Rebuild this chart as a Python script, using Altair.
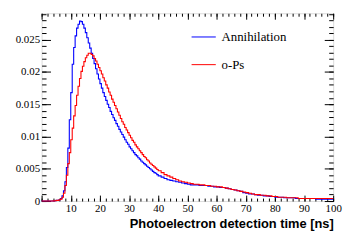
import altair as alt
import pandas as pd

# Histogram contents. 0-40 ns in 0.5 ns bins, 40-100 ns in 1 ns bins.
fine_edges = [i * 0.5 for i in range(80)]
coarse_edges = list(range(40, 100))

annihilation_fine = [
    0, 0, 0, 0, 0, 0, 0, 0,
    0.00003, 0.00005, 0.0001, 0.0001, 0.0002, 0.0004, 0.0008, 0.0016, 0.0030, 0.0052,
    0.0082, 0.0126, 0.0168, 0.0212, 0.0238, 0.0256, 0.0268, 0.0274, 0.0279, 0.0278,
    0.0274, 0.0268, 0.0261, 0.0253, 0.0245, 0.0237, 0.0229, 0.0221, 0.0213, 0.0205,
    0.0197, 0.0189, 0.0182, 0.0175, 0.0168, 0.0162, 0.0156, 0.0150, 0.0145, 0.0139,
    0.0134, 0.0129, 0.0125, 0.0120, 0.0116, 0.0111, 0.0107, 0.0103, 0.0099, 0.0095,
    0.0091, 0.0088, 0.0084, 0.0081, 0.0078, 0.0075, 0.0072, 0.0070, 0.0067, 0.0065,
    0.0062, 0.0060, 0.0058, 0.0056, 0.0054, 0.0052, 0.0050, 0.0048, 0.0046, 0.0044,
    0.0043, 0.0041,
]
annihilation_coarse = [
    0.0039, 0.0037, 0.0035, 0.0033, 0.0032, 0.0031, 0.0030, 0.0029, 0.0028, 0.0027,
    0.0026, 0.0025, 0.0025, 0.0025, 0.0024, 0.0024, 0.0024, 0.0023, 0.0023, 0.0022,
    0.0022, 0.0021, 0.0021, 0.0020, 0.0019, 0.0018, 0.0017, 0.0016, 0.0015, 0.0013,
    0.0012, 0.0011, 0.0011, 0.0010, 0.0009, 0.0009, 0.0008, 0.0008, 0.0007, 0.0007,
    0.0006, 0.0006, 0.0006, 0.0005, 0.0005, 0.0005, 0.0005, 0.0004, 0.0004, 0.0004,
    0.0004, 0.0004, 0.0004, 0.0004, 0.0003, 0.0003, 0.0003, 0.0003, 0.0003, 0.0003,
]

ops_fine = [
    0, 0, 0, 0, 0, 0, 0, 0,
    0.00002, 0.00004, 0.0001, 0.0001, 0.0002, 0.0003, 0.0006, 0.0012, 0.0024, 0.0040,
    0.0058, 0.0075, 0.0095, 0.0113, 0.0132, 0.0148, 0.0164, 0.0178, 0.0190, 0.0201,
    0.0209, 0.0216, 0.0222, 0.0226, 0.0229, 0.0229, 0.0227, 0.0225, 0.0221, 0.0217,
    0.0212, 0.0207, 0.0202, 0.0197, 0.0191, 0.0186, 0.0180, 0.0175, 0.0169, 0.0164,
    0.0158, 0.0153, 0.0148, 0.0143, 0.0138, 0.0133, 0.0128, 0.0123, 0.0119, 0.0114,
    0.0110, 0.0106, 0.0102, 0.0098, 0.0094, 0.0091, 0.0087, 0.0084, 0.0081, 0.0078,
    0.0075, 0.0072, 0.0069, 0.0067, 0.0064, 0.0062, 0.0059, 0.0057, 0.0055, 0.0053,
    0.0051, 0.0049,
]
ops_coarse = [
    0.0047, 0.0044, 0.0041, 0.0039, 0.0037, 0.0035, 0.0033, 0.0031, 0.0030, 0.0029,
    0.0028, 0.0027, 0.0026, 0.0026, 0.0025, 0.0025, 0.0024, 0.0024, 0.0023, 0.0023,
    0.0022, 0.0022, 0.0021, 0.0020, 0.0019, 0.0018, 0.0017, 0.0016, 0.0015, 0.0014,
    0.0013, 0.0012, 0.0011, 0.0010, 0.0010, 0.0009, 0.0009, 0.0008, 0.0008, 0.0007,
    0.0007, 0.0006, 0.0006, 0.0006, 0.0005, 0.0005, 0.0005, 0.0005, 0.0004, 0.0004,
    0.0004, 0.0004, 0.0004, 0.0004, 0.0004, 0.0004, 0.0004, 0.0004, 0.0004, 0.0004,
]

series_names = ["Annihilation", "o-Ps"]
series_colors = ["#0000ff", "#ff0000"]

x_labels = [10, 20, 30, 40, 50, 60, 70, 80, 90, 100]
x_major = list(range(0, 101, 10))
x_minor = list(range(0, 101, 2))
y_labels = [0, 0.005, 0.01, 0.015, 0.02, 0.025]
y_major = [0, 0.005, 0.01, 0.015, 0.02, 0.025]
y_minor = [i / 1000 for i in range(0, 30)]

rows = []
edges = fine_edges + coarse_edges
for name, vals in zip(series_names,
                      [annihilation_fine + annihilation_coarse, ops_fine + ops_coarse]):
    for t, v in zip(edges, vals):
        rows.append({"t": t, "v": v, "series": name})
    rows.append({"t": 100, "v": vals[-1], "series": name})
df = pd.DataFrame(rows)

xscale = alt.Scale(domain=[0, 100], nice=False, zero=False)
yscale = alt.Scale(domain=[0, 0.0291], nice=False, zero=False)


def tick_axis(orient, values, size):
    return alt.Axis(orient=orient, values=values, tickSize=size, offset=-size,
                    labels=False, domain=False, grid=False, title=None,
                    tickColor="black", tickWidth=1)


lines = alt.Chart(df).mark_line(interpolate="step-after", strokeWidth=1.1).encode(
    x=alt.X("t:Q", scale=xscale, axis=alt.Axis(
        orient="bottom", values=x_labels, ticks=False, tickSize=0, domain=False, grid=False,
        labelFont="Liberation Serif", labelFontSize=11, labelColor="black", labelPadding=2,
        labelFlush=False,
        title="Photoelectron detection time [ns]", titleFont="Liberation Sans",
        titleFontWeight="bold", titleFontSize=13, titleColor="black",
        titleAlign="right", titleX=295, titleY=27, titleBaseline="alphabetic")),
    y=alt.Y("v:Q", scale=yscale, axis=alt.Axis(
        orient="left", values=y_labels, format="~g", ticks=False, tickSize=0, domain=False,
        grid=False, labelFont="Liberation Serif", labelFontSize=11, labelColor="black",
        labelPadding=2, title=None)),
    color=alt.Color("series:N", scale=alt.Scale(domain=series_names, range=series_colors),
                    legend=alt.Legend(orient="none", legendX=151, legendY=11, title=None,
                                      symbolType="stroke", symbolSize=600, symbolStrokeWidth=1,
                                      labelFont="Liberation Serif", labelFontSize=13,
                                      labelColor="black", labelOffset=5, rowPadding=8,
                                      padding=0)),
)


def ghost(xaxis, yaxis):
    return alt.Chart(df).mark_line(opacity=0).encode(
        x=alt.X("t:Q", scale=xscale, axis=xaxis),
        y=alt.Y("v:Q", scale=yscale, axis=yaxis),
    )


g1 = ghost(tick_axis("bottom", x_major, 6), tick_axis("left", y_major, 9))
g2 = ghost(tick_axis("bottom", x_minor, 3), tick_axis("left", y_minor, 4.5))
g3 = ghost(tick_axis("top", x_major, 6), tick_axis("right", y_major, 9))
g4 = ghost(tick_axis("top", x_minor, 3), tick_axis("right", y_minor, 4.5))

chart = alt.layer(g1, g2, g3, g4, lines).resolve_axis(
    x="independent", y="independent"
).properties(
    width=295, height=190,
    autosize=alt.AutoSizeParams(type="none"),
    padding={"left": 34, "top": 4, "right": 14, "bottom": 30},
).configure_view(stroke="black", strokeWidth=1).configure(background="white")

chart.save("out.html", embed_options={"renderer": "svg", "actions": False})
